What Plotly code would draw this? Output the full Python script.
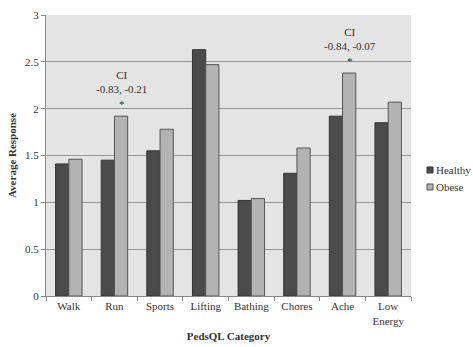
import plotly.graph_objects as go

categories = ["Walk", "Run", "Sports", "Lifting", "Bathing", "Chores", "Ache", "Low<br>Energy"]
healthy = [1.41, 1.45, 1.55, 2.63, 1.02, 1.31, 1.92, 1.85]
obese = [1.46, 1.92, 1.78, 2.47, 1.04, 1.58, 2.38, 2.07]
y_ticks = [0, 0.5, 1, 1.5, 2, 2.5, 3]
y_tick_text = ["0", "0.5", "1", "1.5", "2", "2.5", "3"]

# Significant differences: category index -> confidence interval label
ci_labels = {1: "CI<br>-0.83, -0.21<br>*", 6: "CI<br>-0.84, -0.07<br>*"}

serif = "Liberation Serif"
healthy_color = "#4b4b4b"
obese_color = "#b3b3b3"
series = [("Healthy", healthy, healthy_color, "#333333"),
          ("Obese", obese, obese_color, "#555555")]

W, H = 473, 347
M_L, M_R, M_T, M_B = 46, 62, 15, 51
plot_w = W - M_L - M_R
plot_h = H - M_T - M_B

fig = go.Figure()
for name, vals, color, edge in series:
    fig.add_trace(go.Bar(
        x=categories, y=vals, name=name, showlegend=False,
        marker=dict(color=color, line=dict(color=edge, width=1)),
    ))

for idx, label in ci_labels.items():
    fig.add_annotation(
        x=categories[idx], y=obese[idx], xref="x", yref="y",
        text=label, showarrow=False, xanchor="center", yanchor="bottom",
        xshift=7, yshift=4, align="center",
        font=dict(family=serif, size=11, color="#333333"),
    )

# Compact legend to the right of the plot area: small square key + label
def px_x(px):
    return (px - M_L) / plot_w

def px_y(py):
    return (H - M_B - py) / plot_h

key_left, key_size, row0, row_step = 427, 6, 170, 17
for i, (name, _vals, color, edge) in enumerate(series):
    cy = row0 + i * row_step
    fig.add_shape(
        type="rect", xref="paper", yref="paper",
        x0=px_x(key_left), x1=px_x(key_left + key_size),
        y0=px_y(cy + key_size / 2), y1=px_y(cy - key_size / 2),
        fillcolor=color, line=dict(color=edge, width=1),
    )
    fig.add_annotation(
        x=px_x(key_left + key_size + 1), y=px_y(cy), xref="paper", yref="paper",
        text=name, showarrow=False, xanchor="left", yanchor="middle",
        font=dict(family=serif, size=11, color="#333333"),
    )

fig.update_layout(
    width=W, height=H,
    margin=dict(l=M_L, r=M_R, t=M_T, b=M_B, autoexpand=False),
    paper_bgcolor="white",
    plot_bgcolor="#e4e4e4",
    barmode="group",
    bargap=0.42,
    bargroupgap=0.0,
    showlegend=False,
    font=dict(family=serif, size=11, color="#333333"),
    xaxis=dict(
        title=dict(text="<b>PedsQL Category</b>", font=dict(family=serif, size=11), standoff=6),
        showline=True, linecolor="#888888", linewidth=1,
        ticks="outside", tickson="boundaries", ticklen=4, tickcolor="#888888",
        tickangle=0, showgrid=False,
        tickfont=dict(family=serif, size=11, color="#333333"),
    ),
    yaxis=dict(
        title=dict(text="<b>Average Response</b>", font=dict(family=serif, size=11), standoff=6),
        range=[0, 3], tickvals=y_ticks, ticktext=y_tick_text,
        showline=True, linecolor="#888888", linewidth=1,
        ticks="outside", ticklen=4, tickcolor="#888888",
        showgrid=True, gridcolor="#969696", gridwidth=1,
        zeroline=False,
        tickfont=dict(family=serif, size=11, color="#333333"),
    ),
)

fig.write_html("out.html")
